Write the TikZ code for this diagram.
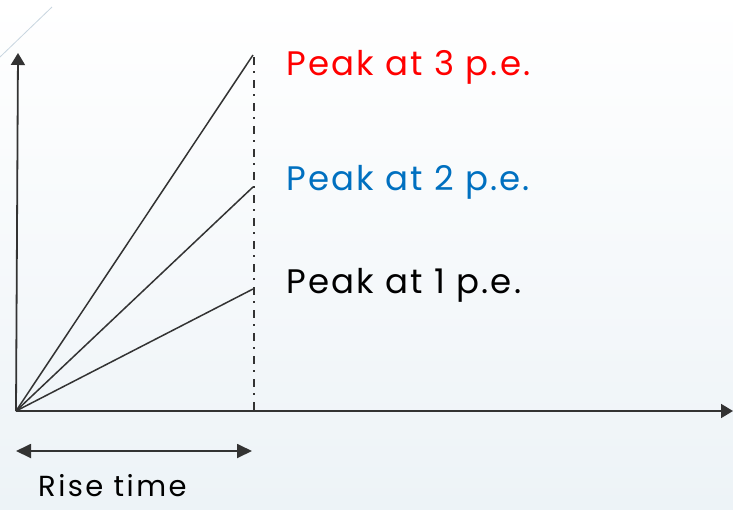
\documentclass[tikz,border=0pt]{standalone}
\usepackage{fontspec}
\setmainfont{Poppins}
\usetikzlibrary{arrows.meta}
\definecolor{axisgray}{HTML}{333333}
\definecolor{peakblue}{HTML}{0070C0}
\definecolor{bgbottom}{HTML}{EDF3F7}
\definecolor{deco}{HTML}{C8D6E0}
\begin{document}
\begin{tikzpicture}[x=1pt,y=-1pt,
  axis/.style={draw=axisgray,line width=1.8pt,-{Triangle[length=12pt,width=14pt]}},
  ramp/.style={draw=axisgray,line width=1.5pt},
  label/.style={anchor=west,inner sep=0pt,font=\addfontfeatures{LetterSpace=6.5}\fontsize{34}{38}\selectfont},
  pt/.style={inner sep=0pt,outer sep=0pt}]
\shade[top color=white,bottom color=bgbottom] (0,0) rectangle (733,509);
\useasboundingbox (0,0) rectangle (733,509);
\draw[deco,line width=0.8pt] (0,57) -- (52,7);
\coordinate (O) at (16,411);
\coordinate (ytop) at (18,53);
\coordinate (xend) at (733,411);
\coordinate (p3) at (253,55);
\coordinate (p2) at (253,187);
\coordinate (p1) at (253,289);
\coordinate (dtop) at (254,57);
\coordinate (dbot) at (254,411);
\coordinate (rl) at (16,451);
\coordinate (rr) at (252,451);
\draw[axis] (O) -- (ytop);
\draw[axis] (O) -- (xend);
\draw[ramp] (O) -- (p3);
\draw[ramp] (O) -- (p2);
\draw[ramp] (O) -- (p1);
\draw[axisgray,line width=1.5pt,dash pattern=on 8pt off 6pt on 2pt off 7pt] (dtop) -- (dbot);
\draw[draw=axisgray,line width=1.8pt,{Triangle[length=15pt,width=14pt]}-{Triangle[length=15pt,width=14pt]}] (rl) -- (rr);
\node[label,text=red] (l3) at (286,67) {Peak at 3 p.e.};
\node[label,text=peakblue] (l2) at (286,182) {Peak at 2 p.e.};
\node[label,text=black] (l1) at (286,285) {Peak at 1 p.e.};
\node[anchor=west,inner sep=0pt,font=\addfontfeatures{LetterSpace=8.5}\fontsize{29}{33}\selectfont] (rt) at (38,486) {Rise time};
\end{tikzpicture}
\end{document}
